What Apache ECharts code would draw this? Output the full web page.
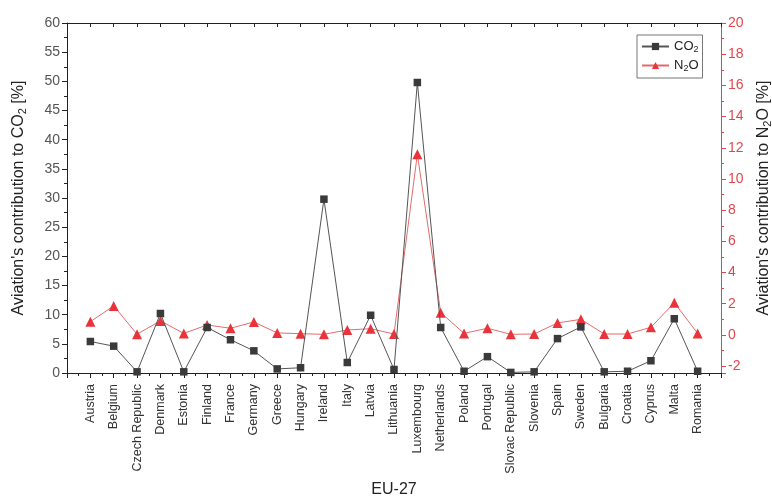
<!DOCTYPE html>
<html>
<head>
<meta charset="utf-8">
<script src="https://cdn.jsdelivr.net/npm/echarts@6/dist/echarts.min.js"></script>
<style>
  html, body { margin: 0; padding: 0; background: #fff; }
  #main { width: 772px; height: 498px; }
</style>
</head>
<body>
<div id="main"></div>
<script>
// countries along the x axis
var countries = ['Austria', 'Belgium', 'Czech Republic', 'Denmark', 'Estonia', 'Finland', 'France',
  'Germany', 'Greece', 'Hungary', 'Ireland', 'Italy', 'Latvia', 'Lithuania', 'Luxembourg',
  'Netherlands', 'Poland', 'Portugal', 'Slovac Republic', 'Slovenia', 'Spain', 'Sweden',
  'Bulgaria', 'Croatia', 'Cyprus', 'Malta', 'Romania']

// aviation's share [%]
var co2 = [5.4, 4.6, 0.2, 10.2, 0.2, 7.8, 5.7, 3.8, 0.7, 0.9, 29.8, 1.8, 9.9, 0.6, 49.8,
  7.8, 0.3, 2.8, 0.1, 0.2, 5.9, 7.9, 0.2, 0.3, 2.1, 9.3, 0.3]
var n2o = [0.85, 1.86, 0.05, 0.9, 0.1, 0.64, 0.43, 0.83, 0.13, 0.08, 0.04, 0.32, 0.4, 0.06, 11.58,
  1.43, 0.1, 0.43, 0.04, 0.06, 0.77, 1.0, 0.06, 0.06, 0.49, 2.07, 0.1]

var font = "'Liberation Sans', Arial, sans-serif"
var red = '#e0474c'

var myChart = echarts.init(document.getElementById('main'))

var toPoints = function (arr) {
  return arr.map(function (v, i) { return [i + 1, v] })
}

myChart.setOption({
  animation: false,
  textStyle: { fontFamily: font },
  grid: { left: 67, right: 51, top: 23, bottom: 125, containLabel: false, outerBoundsMode: 'none' },
  legend: {
    orient: 'vertical',
    left: 637,
    top: 35,
    itemWidth: 27,
    itemHeight: 9,
    itemGap: 5,
    padding: [5, 4, 5, 4],
    borderColor: '#777',
    borderWidth: 1,
    data: ['CO2', 'N2O'],
    formatter: function (name) {
      return name === 'CO2' ? '{t|CO}{s|2}' : '{t|N}{s|2}{t|O}'
    },
    textStyle: {
      width: 36,
      rich: {
        t: { fontSize: 13, color: '#222', fontFamily: font },
        s: { fontSize: 9, color: '#222', fontFamily: font, verticalAlign: 'bottom', padding: [6, 0, 0, 0] }
      }
    }
  },
  xAxis: [{
    type: 'value',
    min: 0,
    max: 28,
    interval: 1,
    name: 'EU-27',
    nameLocation: 'middle',
    nameGap: 107,
    nameTextStyle: { fontSize: 16, color: '#222' },
    axisLine: { onZero: false, lineStyle: { color: '#222', width: 1 } },
    axisTick: { length: 5, lineStyle: { color: '#222' } },
    minorTick: { show: true, splitNumber: 2, length: 3, lineStyle: { color: '#222' } },
    splitLine: { show: false },
    axisLabel: {
      rotate: 90,
      fontSize: 12.5,
      color: '#333',
      margin: 11,
      formatter: function (v) { return countries[v - 1] || '' }
    }
  }, {
    type: 'value',
    position: 'top',
    min: 0,
    max: 28,
    interval: 1,
    axisLine: { onZero: false, lineStyle: { color: '#222', width: 1 } },
    axisTick: { inside: true, length: 4, lineStyle: { color: '#222' } },
    minorTick: { show: false },
    splitLine: { show: false },
    axisLabel: { show: false }
  }],
  yAxis: [{
    type: 'value',
    min: 0,
    max: 60,
    interval: 5,
    name: "{t|Aviation's contribution to CO}{s|2}{t| [%]}",
    nameLocation: 'middle',
    nameGap: 39,
    nameTextStyle: {
      rich: {
        t: { fontSize: 16, color: '#222', fontFamily: font },
        s: { fontSize: 11, color: '#222', fontFamily: font, verticalAlign: 'bottom', padding: [8, 0, 0, 0] }
      }
    },
    axisLine: { show: true, onZero: false, lineStyle: { color: '#222', width: 1 } },
    axisTick: { length: 5, lineStyle: { color: '#222' } },
    minorTick: { show: true, splitNumber: 2, length: 3, lineStyle: { color: '#222' } },
    splitLine: { show: false },
    axisLabel: { fontSize: 14, color: '#555', margin: 7 }
  }, {
    type: 'value',
    position: 'right',
    min: -2.44,
    max: 20,
    splitNumber: 11,
    name: "{t|Aviation's contribution to N}{s|2}{t|O [%]}",
    nameLocation: 'middle',
    nameGap: 33,
    nameRotate: 90,
    nameTextStyle: {
      rich: {
        t: { fontSize: 16, color: '#222', fontFamily: font },
        s: { fontSize: 11, color: '#222', fontFamily: font, verticalAlign: 'bottom', padding: [8, 0, 0, 0] }
      }
    },
    axisLine: { show: true, onZero: false, lineStyle: { color: red, width: 1 } },
    axisTick: { length: 5, lineStyle: { color: red } },
    minorTick: { show: true, splitNumber: 2, length: 3, lineStyle: { color: red } },
    splitLine: { show: false },
    axisLabel: {
      fontSize: 14,
      color: red,
      margin: 7,
      showMinLabel: false,
      formatter: function (v) { return Math.abs(v - Math.round(v)) < 1e-6 ? String(Math.round(v)) : '' }
    }
  }],
  series: [{
    name: 'CO2',
    type: 'line',
    xAxisIndex: 0,
    yAxisIndex: 0,
    data: toPoints(co2),
    symbol: 'rect',
    symbolSize: 7.5,
    lineStyle: { color: '#555', width: 1 },
    itemStyle: { color: '#3a3a3a' },
    z: 3
  }, {
    name: 'N2O',
    type: 'line',
    xAxisIndex: 0,
    yAxisIndex: 1,
    data: toPoints(n2o),
    symbol: 'triangle',
    symbolSize: 10,
    lineStyle: { color: '#e36b6b', width: 1 },
    itemStyle: { color: '#e8343a' },
    z: 2
  }]
})
</script>
</body>
</html>
